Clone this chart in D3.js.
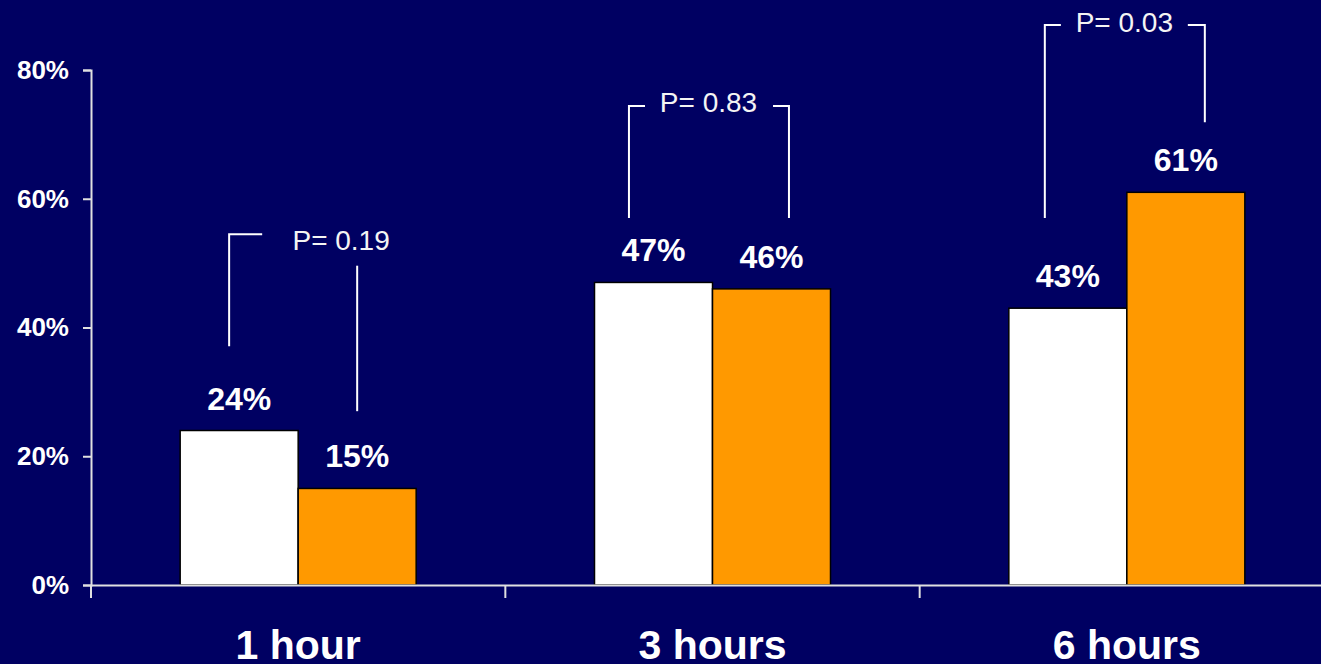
<!DOCTYPE html>
<html>
<head>
<meta charset="utf-8">
<script src="https://cdn.jsdelivr.net/npm/d3@7"></script>
<style>
  html, body { margin: 0; padding: 0; background: #000062; overflow: hidden; }
  svg { display: block; }
  text { font-family: "Liberation Sans", Arial, sans-serif; }
</style>
</head>
<body>
<svg id="chart" width="1321" height="664"></svg>
<script>
// ---- data ----
const categories = ["1 hour", "3 hours", "6 hours"];
const seriesNames = ["groupA", "groupB"];
const groupAValues = [24, 47, 43];
const groupBValues = [15, 46, 61];
const yTickValues = [0, 20, 40, 60, 80];
const pLabels = ["P= 0.19", "P= 0.83", "P= 0.03"];

// ---- annotation layout (bracket geometry: dx in bar widths from group centre, y in % units) ----
const bracketLayout = [
  { text: [0.364, 52.0],
    paths: [[[-0.585, 37.1], [-0.585, 54.5], [-0.305, 54.5]],
            [[0.5, 49.6], [0.5, 27.0]]] },
  { text: [-0.034, 73.5],
    paths: [[[-0.708, 57.0], [-0.708, 74.4], [-0.572, 74.4]],
            [[0.513, 74.4], [0.648, 74.4], [0.648, 57.0]]] },
  { text: [-0.021, 85.9],
    paths: [[[-0.695, 57.0], [-0.695, 87.0], [-0.559, 87.0]],
            [[0.517, 87.0], [0.661, 87.0], [0.661, 71.9]]] }
];

const W = 1321, H = 664;
const mLeft = 91, mRight = 1334, mTop = 70, mBottom = 585;
const colors = { groupA: "#ffffff", groupB: "#ff9900" };

const svg = d3.select("#chart");
svg.append("rect").attr("width", W).attr("height", H).attr("fill", "#000062");

const x0 = d3.scaleBand().domain(categories).range([mLeft, mRight]).paddingInner(0).paddingOuter(0);
const barW = 118;
const x1 = d3.scaleBand().domain(seriesNames)
  .range([x0.bandwidth() / 2 - barW, x0.bandwidth() / 2 + barW]).padding(0);
const y = d3.scaleLinear().domain([0, 80]).range([mBottom, mTop]);

const rows = categories.map((c, i) => ({ cat: c, values: [
  { key: "groupA", v: groupAValues[i] },
  { key: "groupB", v: groupBValues[i] }
]}));

// y axis
const yAxis = svg.append("g").attr("transform", `translate(${mLeft},0)`)
  .call(d3.axisLeft(y).tickValues(yTickValues).tickFormat(d => d + "%").tickSize(8).tickPadding(14));
yAxis.select(".domain").attr("stroke", "#e0e0e0").attr("stroke-width", 2);
yAxis.selectAll(".tick line").attr("stroke", "#e0e0e0").attr("stroke-width", 2);
yAxis.selectAll(".tick text").attr("fill", "#ffffff").attr("font-size", 26).attr("font-weight", "bold")
  .attr("font-family", "'Liberation Sans', Arial, sans-serif");

// bars
const groups = svg.append("g").selectAll("g").data(rows).join("g")
  .attr("transform", d => `translate(${x0(d.cat)},0)`);
groups.selectAll("rect").data(d => d.values).join("rect")
  .attr("x", d => x1(d.key))
  .attr("y", d => y(d.v))
  .attr("width", x1.bandwidth())
  .attr("height", d => y(0) - y(d.v))
  .attr("fill", d => colors[d.key])
  .attr("stroke", "#000000")
  .attr("stroke-width", 1.5);

// value labels
groups.selectAll("text.val").data(d => d.values).join("text")
  .attr("class", "val")
  .attr("x", d => x1(d.key) + x1.bandwidth() / 2)
  .attr("y", d => y(d.v) - 21)
  .attr("text-anchor", "middle")
  .attr("fill", "#ffffff")
  .attr("font-size", 32)
  .attr("font-weight", "bold")
  .text(d => d.v + "%");

// x axis line and category ticks
const xAxis = svg.append("g").attr("transform", `translate(0,${mBottom})`)
  .call(d3.axisBottom(x0).tickSize(0).tickSizeOuter(0).tickFormat(""));
xAxis.select(".domain").attr("stroke", "#e0e0e0").attr("stroke-width", 2);
const boundaries = categories.map(c => x0(c)).concat([x0(categories[categories.length - 1]) + x0.bandwidth()]);
svg.append("g").selectAll("line").data(boundaries).join("line")
  .attr("x1", d => d).attr("x2", d => d)
  .attr("y1", mBottom).attr("y2", mBottom + 13)
  .attr("stroke", "#e0e0e0").attr("stroke-width", 2);

// category labels
svg.append("g").selectAll("text").data(categories).join("text")
  .attr("x", d => x0(d) + x0.bandwidth() / 2)
  .attr("y", 659)
  .attr("text-anchor", "middle")
  .attr("fill", "#ffffff")
  .attr("font-size", 41)
  .attr("font-weight", "bold")
  .text(d => d);

// P-value brackets
const line = d3.line();
bracketLayout.forEach((b, i) => {
  const cx = x0(categories[i]) + x0.bandwidth() / 2;
  b.paths.forEach(p => {
    svg.append("path")
      .attr("d", line(p.map(([dx, v]) => [cx + dx * barW, y(v)])))
      .attr("fill", "none")
      .attr("stroke", "#ffffff")
      .attr("stroke-width", 2);
  });
  svg.append("text")
    .attr("x", cx + b.text[0] * barW)
    .attr("y", y(b.text[1]))
    .attr("text-anchor", "middle")
    .attr("fill", "#f4f4f4")
    .attr("font-size", 28)
    .text(pLabels[i]);
});
</script>
</body>
</html>
